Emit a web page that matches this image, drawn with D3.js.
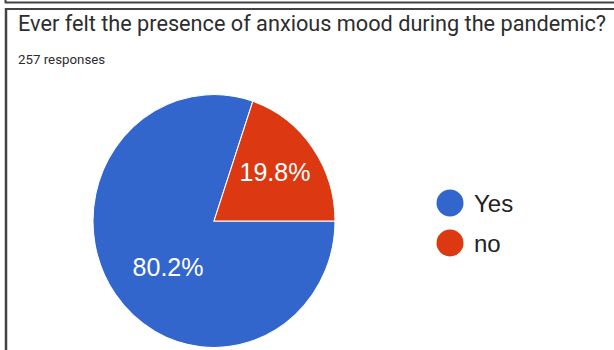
<!DOCTYPE html>
<html>
<head>
<meta charset="utf-8">
<script src="https://cdn.jsdelivr.net/npm/d3@7"></script>
<style>
  html, body { margin: 0; padding: 0; background: #fff; }
  svg { display: block; font-family: Roboto, "Noto Sans", Arial, sans-serif; }
</style>
</head>
<body>
<svg id="chart" width="614" height="350"></svg>
<script>
// Survey answers and their shares (percent)
const categories = ["Yes", "no"];
const shares = [80.2, 19.8];
const colors = ["#3366cc", "#dc3912"];
const title = "Ever felt the presence of anxious mood during the pandemic?";
const subtitle = "257 responses";

const svg = d3.select("#chart");
const W = 614, H = 350;
const chartFont = "'Liberation Sans', Arial, sans-serif";

// card frame lines
const frame = svg.append("g").attr("fill", "none").attr("stroke", "#444");
frame.append("line").attr("x1", 5).attr("x2", W).attr("y1", 2.5).attr("y2", 2.5).attr("stroke-width", 2);
frame.append("line").attr("x1", 5.5).attr("x2", 5.5).attr("y1", 0).attr("y2", 3).attr("stroke-width", 2);
frame.append("line").attr("x1", 5).attr("x2", W).attr("y1", 9).attr("y2", 9).attr("stroke-width", 2);
frame.append("line").attr("x1", 6).attr("x2", 6).attr("y1", 8).attr("y2", H).attr("stroke-width", 2.5);

// heading
svg.append("text")
  .attr("x", 18).attr("y", 31)
  .attr("font-size", 21.7)
  .attr("fill", "#2d2d2d")
  .text(title);
svg.append("text")
  .attr("x", 18).attr("y", 64)
  .attr("font-size", 13.3)
  .attr("fill", "#2d2d2d")
  .text(subtitle);

// pie
const data = categories.map((c, i) => ({ name: c, value: shares[i], color: colors[i] }));
const r = 121;
const cx = 214, cy = 221;
const sy = 1.045; // slight vertical stretch of the pie
const pie = d3.pie()
  .value(d => d.value)
  .sort(null)
  .startAngle(Math.PI / 2)
  .endAngle(Math.PI / 2 + 2 * Math.PI);
const arc = d3.arc().innerRadius(0).outerRadius(r);
const labelArc = d3.arc().innerRadius(r * 0.62).outerRadius(r * 0.62);
// per-slice nudge of the percentage labels from the arc centroid
const labelNudge = [[15, 1], [0, -2.5]];

const g = svg.append("g")
  .attr("transform", `translate(${cx},${cy}) scale(1,${sy})`);
const arcs = pie(data);
g.selectAll("path")
  .data(arcs)
  .join("path")
  .attr("d", arc)
  .attr("fill", d => d.data.color)
  .attr("stroke", "#fff")
  .attr("stroke-width", 1);

g.selectAll("text")
  .data(arcs)
  .join("text")
  .attr("transform", (d, i) => {
    const [x, y] = labelArc.centroid(d);
    return `translate(${x + labelNudge[i][0]},${y + labelNudge[i][1]}) scale(1,${1 / sy})`;
  })
  .attr("text-anchor", "middle")
  .attr("dy", "0.35em")
  .attr("font-family", chartFont)
  .attr("font-size", 25)
  .attr("fill", "#fff")
  .text(d => d.data.value.toFixed(1) + "%");

// legend
const legend = svg.append("g").attr("transform", "translate(450,203)");
const item = legend.selectAll("g")
  .data(data)
  .join("g")
  .attr("transform", (d, i) => `translate(0,${i * 40})`);
item.append("circle").attr("r", 13.5).attr("fill", d => d.color);
item.append("text")
  .attr("x", 24).attr("dy", "0.36em")
  .attr("font-family", chartFont)
  .attr("font-size", 24)
  .attr("fill", "#222")
  .text(d => d.name);
</script>
</body>
</html>
